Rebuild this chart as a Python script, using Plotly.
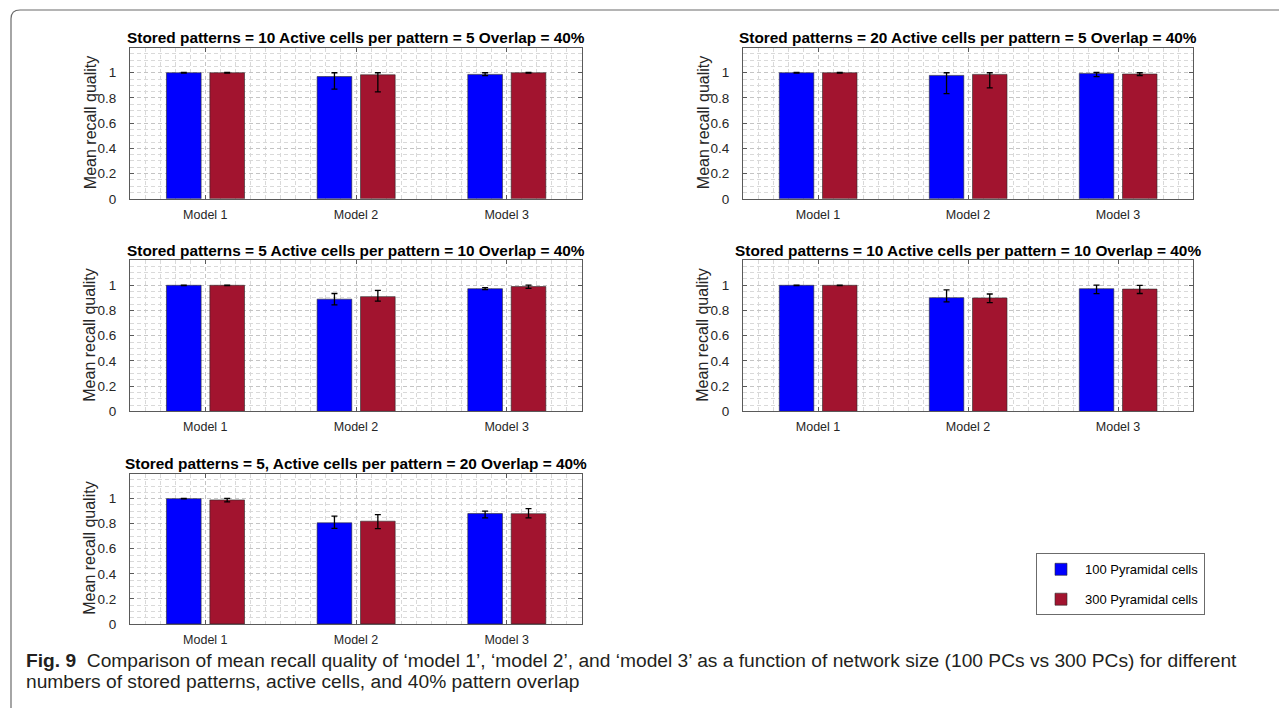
import plotly.graph_objects as go

# page body has an 8px margin; the figure is sized so the page fills 1287x716 exactly
OFF = 8
FW, FH = 1287 - OFF, 716 - 2 * OFF  # 1279 x 700

# ---------------- data ----------------
models = ["Model 1", "Model 2", "Model 3"]
model_pos = [1, 2, 3]
series_names = ["100 Pyramidal cells", "300 Pyramidal cells"]
y_ticks = [0, 0.2, 0.4, 0.6, 0.8, 1]
y_tick_text = ["0", "0.2", "0.4", "0.6", "0.8", "1"]

panel_titles = [
    "Stored patterns = 10 Active cells per pattern = 5 Overlap = 40%",
    "Stored patterns = 20 Active cells per pattern = 5 Overlap = 40%",
    "Stored patterns = 5 Active cells per pattern = 10 Overlap = 40%",
    "Stored patterns = 10 Active cells per pattern = 10 Overlap = 40%",
    "Stored patterns = 5, Active cells per pattern = 20 Overlap = 40%",
]

# mean recall quality (100 PCs)
pc100_mean = [
    [1.0, 0.970, 0.987],
    [1.0, 0.979, 0.995],
    [1.0, 0.890, 0.973],
    [1.0, 0.902, 0.973],
    [1.0, 0.807, 0.881],
]
pc100_err_up = [
    [0.002, 0.030, 0.013],
    [0.002, 0.021, 0.007],
    [0.002, 0.045, 0.008],
    [0.002, 0.061, 0.029],
    [0.002, 0.053, 0.019],
]
pc100_err_down = [
    [0.002, 0.100, 0.010],
    [0.002, 0.144, 0.025],
    [0.002, 0.045, 0.008],
    [0.002, 0.034, 0.039],
    [0.002, 0.045, 0.034],
]
# mean recall quality (300 PCs)
pc300_mean = [
    [1.0, 0.984, 1.0],
    [1.0, 0.987, 0.990],
    [1.0, 0.910, 0.990],
    [1.0, 0.900, 0.970],
    [0.990, 0.820, 0.880],
]
pc300_err_up = [
    [0.002, 0.016, 0.002],
    [0.002, 0.013, 0.010],
    [0.002, 0.050, 0.012],
    [0.002, 0.031, 0.030],
    [0.012, 0.053, 0.040],
]
pc300_err_down = [
    [0.002, 0.136, 0.002],
    [0.002, 0.107, 0.012],
    [0.002, 0.035, 0.015],
    [0.002, 0.037, 0.035],
    [0.016, 0.060, 0.033],
]

caption_line1 = ("Comparison of mean recall quality of \u2018model 1\u2019, \u2018model 2\u2019, and "
                 "\u2018model 3\u2019 as a function of network size (100 PCs vs 300 PCs) for different")
caption_line2 = "numbers of stored patterns, active cells, and 40% pattern overlap"

# ---------------- styling ----------------
BLUE = "#0000FF"
RED = "#A2142F"
FONT_S = "Liberation Sans, Arial, sans-serif"
AX_COL = "#5a5a5a"
TXT_COL = "#262626"

# panel boxes in page pixels: (x0, x1, ytop, ybottom)
panels_px = [
    (130, 582, 48, 201),
    (743, 1193, 48, 201),
    (130, 582, 263, 416),
    (743, 1193, 263, 416),
    (130, 582, 479, 631),
]


def fx(px):
    return (px - OFF) / FW


def fy(py):
    return 1 - (py - OFF) / FH


fig = go.Figure()
annotations = []

for i, (x0, x1, yt, yb) in enumerate(panels_px):
    n = i + 1
    xa = "x" if n == 1 else f"x{n}"
    ya = "y" if n == 1 else f"y{n}"
    for s, (mean, eu, ed, col, off) in enumerate([
        (pc100_mean[i], pc100_err_up[i], pc100_err_down[i], BLUE, -0.258),
        (pc300_mean[i], pc300_err_up[i], pc300_err_down[i], RED, 0.03),
    ]):
        fig.add_trace(go.Bar(
            x=model_pos, y=mean, width=0.23, offset=off,
            marker=dict(color=col, line=dict(color="#2a2a2a", width=0.6)),
            error_y=dict(type="data", symmetric=False, array=eu, arrayminus=ed,
                         color="black", thickness=1.3, width=3),
            name=series_names[s], legendgroup=series_names[s],
            showlegend=(i == 0), xaxis=xa, yaxis=ya,
        ))

    xkey = "xaxis" if n == 1 else f"xaxis{n}"
    ykey = "yaxis" if n == 1 else f"yaxis{n}"
    fig.update_layout(**{
        xkey: dict(
            domain=[fx(x0), fx(x1)], anchor=ya, range=[0.5, 3.5],
            tickvals=model_pos, ticktext=models,
            showline=True, linecolor=AX_COL, linewidth=1, mirror="ticks",
            ticks="inside", ticklen=4, tickcolor=AX_COL,
            showgrid=True, gridcolor="#c4c4c4", griddash="4px,3px", gridwidth=1,
            minor=dict(dtick=0.1, tick0=0.5, showgrid=True, gridcolor="#d9d9d9",
                       griddash="4px,3px", ticks=""),
            tickfont=dict(family=FONT_S, size=12.5, color=TXT_COL),
            ticklabelstandoff=4, zeroline=False, fixedrange=True,
        ),
        ykey: dict(
            domain=[fy(yb), fy(yt)], anchor=xa, range=[0, 1.2],
            tickvals=y_ticks, ticktext=y_tick_text,
            showline=True, linecolor=AX_COL, linewidth=1, mirror="ticks",
            ticks="inside", ticklen=4, tickcolor=AX_COL,
            showgrid=True, gridcolor="#c4c4c4", griddash="4px,3px", gridwidth=1,
            minor=dict(dtick=0.05, tick0=0, showgrid=True, gridcolor="#d9d9d9",
                       griddash="4px,3px", ticks=""),
            tickfont=dict(family=FONT_S, size=13.5, color=TXT_COL),
            ticklabelstandoff=10, zeroline=False, fixedrange=True,
        ),
    })
    # panel title
    annotations.append(dict(
        text=f"<b>{panel_titles[i]}</b>", xref="paper", yref="paper",
        x=fx((x0 + x1) / 2), y=fy(yt - 10), xanchor="center", yanchor="middle",
        showarrow=False, font=dict(family=FONT_S, size=15.4, color="black"),
    ))
    # y-axis title
    annotations.append(dict(
        text="Mean recall quality", xref="paper", yref="paper",
        x=fx(x0 - 40), y=fy((yt + yb) / 2), xanchor="center", yanchor="middle",
        textangle=-90, showarrow=False,
        font=dict(family=FONT_S, size=16, color=TXT_COL),
    ))

# caption
annotations.append(dict(
    text=f"<b>Fig. 9</b>  {caption_line1}", xref="paper", yref="paper",
    x=fx(24), y=fy(668), xanchor="left", yanchor="middle", showarrow=False,
    font=dict(family=FONT_S, size=19.2, color="#231f20"),
))
annotations.append(dict(
    text=caption_line2, xref="paper", yref="paper",
    x=fx(24), y=fy(689), xanchor="left", yanchor="middle", showarrow=False,
    font=dict(family=FONT_S, size=19.2, color="#231f20"),
))

# outer rounded frame (figure border)
frame_path = (f"M {fx(11)},{fy(730)} L {fx(11)},{fy(19)} "
              f"Q {fx(11)},{fy(10)} {fx(20)},{fy(10)} L {fx(1300)},{fy(10)}")

fig.update_layout(
    width=FW, height=FH, autosize=False,
    margin=dict(l=0, r=0, t=0, b=0),
    paper_bgcolor="white", plot_bgcolor="white",
    barmode="overlay",
    annotations=annotations,
    shapes=[dict(type="path", path=frame_path, xref="paper", yref="paper",
                 line=dict(color="#6b6b6b", width=1.2))],
    legend=dict(
        x=fx(1036), y=fy(591), xanchor="left", yanchor="middle",
        bordercolor="#6b6b6b", borderwidth=1, bgcolor="white",
        font=dict(family=FONT_S, size=13, color="black"),
        itemwidth=38, tracegroupgap=10, traceorder="grouped",
    ),
    showlegend=True,
)

fig.write_html("out.html")
